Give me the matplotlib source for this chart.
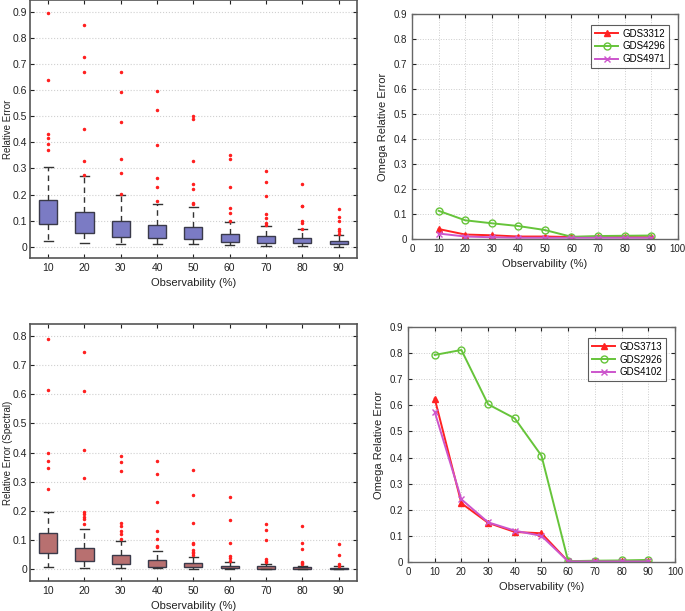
import matplotlib
matplotlib.use("Agg")
import matplotlib.pyplot as plt

plt.rcParams['font.family'] = ['Liberation Sans', 'DejaVu Sans']

# observability levels
obs = [10, 20, 30, 40, 50, 60, 70, 80, 90]

# top-left boxplot (relative error)
re_q1 = [0.087, 0.051, 0.038, 0.034, 0.030, 0.019, 0.016, 0.014, 0.011]
re_q3 = [0.181, 0.132, 0.099, 0.084, 0.077, 0.049, 0.042, 0.034, 0.024]
re_med = [0.13, 0.09, 0.065, 0.055, 0.05, 0.032, 0.027, 0.022, 0.017]
re_lo = [0.022, 0.014, 0.011, 0.011, 0.010, 0.005, 0.003, 0.003, 0.001]
re_hi = [0.304, 0.271, 0.200, 0.162, 0.154, 0.096, 0.080, 0.068, 0.045]
re_out = [
    [0.897, 0.637, 0.430, 0.417, 0.394, 0.371],
    [0.848, 0.726, 0.668, 0.451, 0.327, 0.275],
    [0.668, 0.593, 0.478, 0.337, 0.282, 0.203],
    [0.598, 0.524, 0.391, 0.262, 0.229, 0.175],
    [0.500, 0.490, 0.328, 0.240, 0.222, 0.167, 0.162],
    [0.351, 0.336, 0.229, 0.147, 0.131, 0.100],
    [0.290, 0.250, 0.193, 0.125, 0.112, 0.090, 0.085],
    [0.242, 0.158, 0.155, 0.100, 0.090, 0.070],
    [0.145, 0.115, 0.100, 0.070, 0.060, 0.050],
]

# bottom-left boxplot (spectral relative error)
sp_q1 = [0.055, 0.027, 0.018, 0.009, 0.007, 0.003, 0.002, 0.001, 0.001]
sp_q3 = [0.126, 0.073, 0.048, 0.031, 0.023, 0.013, 0.010, 0.007, 0.006]
sp_med = [0.09, 0.05, 0.03, 0.02, 0.015, 0.008, 0.006, 0.004, 0.003]
sp_lo = [0.008, 0.004, 0.004, 0.003, 0.002, 0.001, 0.001, 0.0, 0.0]
sp_hi = [0.195, 0.137, 0.098, 0.062, 0.042, 0.024, 0.019, 0.013, 0.010]
sp_out = [
    [0.790, 0.615, 0.400, 0.372, 0.347, 0.274],
    [0.745, 0.610, 0.410, 0.312, 0.196, 0.188, 0.180, 0.171, 0.156],
    [0.387, 0.366, 0.335, 0.160, 0.147, 0.130, 0.120, 0.105],
    [0.370, 0.328, 0.230, 0.130, 0.105, 0.080, 0.075],
    [0.340, 0.255, 0.160, 0.090, 0.087, 0.065, 0.060, 0.055, 0.050],
    [0.248, 0.170, 0.090, 0.046, 0.038, 0.030],
    [0.155, 0.133, 0.100, 0.035, 0.030, 0.025],
    [0.148, 0.090, 0.070, 0.026, 0.022, 0.018],
    [0.087, 0.050, 0.018, 0.013],
]

# top-right lines
gds3312 = [0.040, 0.018, 0.015, 0.010, 0.010, 0.008, 0.008, 0.008, 0.007]
gds4296 = [0.113, 0.075, 0.063, 0.052, 0.036, 0.009, 0.012, 0.013, 0.014]
gds4971 = [0.022, 0.010, 0.007, 0.005, 0.005, 0.005, 0.005, 0.005, 0.005]

# bottom-right lines
gds3713 = [0.626, 0.225, 0.150, 0.115, 0.110, 0.002, 0.002, 0.002, 0.002]
gds2926 = [0.793, 0.812, 0.604, 0.550, 0.407, 0.003, 0.005, 0.006, 0.008]
gds4102 = [0.575, 0.240, 0.152, 0.120, 0.100, 0.002, 0.002, 0.002, 0.002]

fig = plt.figure(figsize=(6.85, 6.11), dpi=100)


def box_panel(rect, q1, q3, med, lo, hi, out, face, ylabel, ylim, yticks):
    ax = fig.add_axes(rect)
    stats = []
    for i in range(len(obs)):
        stats.append(dict(q1=q1[i], q3=q3[i], med=med[i], whislo=lo[i],
                          whishi=hi[i], fliers=out[i], label=str(obs[i])))
    ax.bxp(stats, widths=0.5, patch_artist=True,
           boxprops=dict(facecolor=face, edgecolor='#3a3a4a', linewidth=1.0),
           whiskerprops=dict(color='#333333', linestyle=(0, (4, 3)), linewidth=1.0),
           capprops=dict(color='#333333', linewidth=1.0),
           medianprops=dict(linewidth=0),
           flierprops=dict(marker='.', markersize=3, markerfacecolor='#ff2020',
                           markeredgecolor='#ff2020', linestyle='none'))
    ax.set_xlim(0.5, 9.5)
    ax.set_ylim(*ylim)
    ax.set_yticks(yticks)
    ax.set_yticklabels(['0' if t == 0 else f'{t:.1f}' for t in yticks])
    ax.yaxis.grid(True, linestyle=':', color='#d0d0d0', linewidth=0.8)
    ax.set_axisbelow(True)
    ax.tick_params(direction='in', top=True, right=True, labelsize=7.5,
                   colors='#222222', length=3)
    ax.tick_params(axis='y', pad=2)
    for s in ax.spines.values():
        s.set_color('#555555')
        s.set_linewidth(1.2)
    ax.set_xlabel('Observability (%)', fontsize=8, color='#222222', labelpad=4)
    ax.set_ylabel(ylabel, fontsize=7, color='#222222')
    ax.yaxis.set_label_coords(-0.052, 0.5)
    return ax


def line_panel(rect, series, names):
    ax = fig.add_axes(rect)
    styles = [dict(color='#ff2222', marker='^', markersize=5, mfc='#ff2222'),
              dict(color='#66c43a', marker='o', markersize=5, mfc='none'),
              dict(color='#cc55cc', marker='x', markersize=5)]
    for ys, nm, st in zip(series, names, styles):
        ax.plot(obs, ys, linewidth=1.4, label=nm, **st)
    ax.set_xlim(0, 100)
    ax.set_ylim(0, 0.9)
    ax.set_xticks(range(0, 101, 10))
    ax.set_yticks([i / 10 for i in range(10)])
    ax.set_yticklabels(['0'] + [f'{i / 10:.1f}' for i in range(1, 10)])
    ax.grid(True, linestyle=':', color='#cccccc', linewidth=0.7)
    ax.tick_params(direction='in', top=True, right=True, labelsize=7,
                   colors='#222222', length=3)
    for s in ax.spines.values():
        s.set_color('#666666')
        s.set_linewidth(1.0)
    ax.set_xlabel('Observability (%)', fontsize=8, color='#222222', labelpad=4)
    ax.set_ylabel('Omega Relative Error', fontsize=8, color='#222222', labelpad=4)
    leg = ax.legend(loc='upper right', fontsize=7, frameon=True, fancybox=False,
                    handlelength=2.4, handletextpad=0.4, borderpad=0.4,
                    labelspacing=0.3, bbox_to_anchor=(0.985, 0.975))
    leg.get_frame().set_edgecolor('#333333')
    leg.get_frame().set_linewidth(0.8)
    return ax


box_panel([0.0438, 0.5777, 0.477, 0.4223], re_q1, re_q3, re_med, re_lo, re_hi,
          re_out, '#7b7bc4', 'Relative Error', (-0.043, 0.945),
          [i / 10 for i in range(10)])
box_panel([0.0438, 0.0491, 0.477, 0.4206], sp_q1, sp_q3, sp_med, sp_lo, sp_hi,
          sp_out, '#b87070', 'Relative Error (Spectral)', (-0.04, 0.84),
          [i / 10 for i in range(9)])
line_panel([0.6015, 0.6088, 0.388, 0.368], [gds3312, gds4296, gds4971],
           ['GDS3312', 'GDS4296', 'GDS4971'])
line_panel([0.5956, 0.0802, 0.3898, 0.3846], [gds3713, gds2926, gds4102],
           ['GDS3713', 'GDS2926', 'GDS4102'])

fig.savefig('out.png', dpi=100)
